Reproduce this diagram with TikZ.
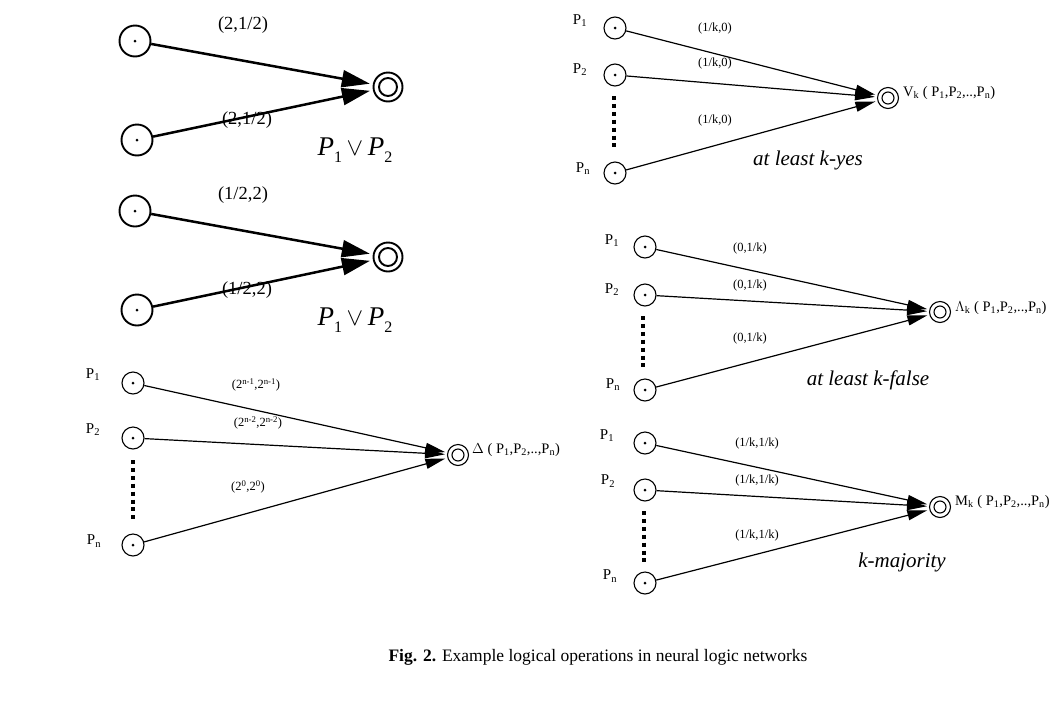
\documentclass[tikz,border=0pt]{standalone}
\usepackage{fontspec}
\setmainfont{Liberation Serif}
\usetikzlibrary{arrows.meta}

\newcommand{\fs}[1]{\fontsize{#1}{#1}\selectfont}
\newcommand{\sub}[1]{\raisebox{-0.28em}{\fs{16}#1}}
\newcommand{\orp}{\textit{P}\sub{1}\,$\vee$\,\textit{P}\sub{2}}
\newcommand{\plist}{P\textsubscript{1},P\textsubscript{2},..,P\textsubscript{n})}

\begin{document}
\begin{tikzpicture}[x=1pt,y=-1pt,
  inbig/.style={circle,draw,line width=1.9pt,minimum size=31pt,inner sep=0pt},
  outbig/.style={circle,draw,line width=1.9pt,minimum size=29pt,inner sep=0pt},
  insmall/.style={circle,draw,line width=1.1pt,minimum size=22pt,inner sep=0pt},
  outsmall/.style={circle,draw,line width=1.1pt,minimum size=21pt,inner sep=0pt},
  bigarrow/.style={line width=2.5pt,-{Triangle[length=28pt,width=17pt]},shorten >=3pt},
  smallarrow/.style={line width=1.2pt,-{Triangle[length=20pt,width=10pt]},shorten >=2pt},
  wtbig/.style={font=\fs{18.5},inner sep=0pt},
  wt/.style={font=\fs{12.5},inner sep=0pt},
  plab/.style={font=\fs{15},inner sep=0pt},
  outlab/.style={font=\fs{14.5},inner sep=0pt,anchor=west},
  opname/.style={font=\fs{21}\itshape,inner sep=0pt},
  dotcol/.style={line width=4.5pt,dash pattern=on 4pt off 3.9pt},
]
\useasboundingbox (0,0) rectangle (1052,702);

% ---------- P1 v P2, weights (2,1/2) ----------
\node[inbig] (a1) at (135,41) {};
\node[inbig] (a2) at (137,140) {};
\node[outbig] (o1) at (388,87) {};
\draw[line width=1.9pt] (o1.center) circle (9pt);
\draw[bigarrow] (a1) -- (o1);
\draw[bigarrow] (a2) -- (o1);
\node[wtbig] (w11) at (243,25) {(2,1/2)};
\node[wtbig] (w12) at (247,120) {(2,1/2)};
\node[font=\fs{27},inner sep=0pt] (f1) at (355,150) {\orp};

% ---------- P1 v P2, weights (1/2,2) ----------
\node[inbig] (b1) at (135,211) {};
\node[inbig] (b2) at (137,310) {};
\node[outbig] (o2) at (388,257) {};
\draw[line width=1.9pt] (o2.center) circle (9pt);
\draw[bigarrow] (b1) -- (o2);
\draw[bigarrow] (b2) -- (o2);
\node[wtbig] (w21) at (243,195) {(1/2,2)};
\node[wtbig] (w22) at (247,290) {(1/2,2)};
\node[font=\fs{27},inner sep=0pt] (f2) at (355,320) {\orp};

% ---------- Delta ----------
\node[insmall] (c1) at (133,383) {};
\node[insmall] (c2) at (133,438) {};
\node[insmall] (cn) at (133,545) {};
\node[plab] (lc1) at (93,375) {P\textsubscript{1}};
\node[plab] (lc2) at (93,430) {P\textsubscript{2}};
\node[plab] (lcn) at (94,541) {P\textsubscript{n}};
\coordinate (cd1) at (133,460);
\coordinate (cd2) at (133,521);
\draw[dotcol] (cd1) -- (cd2);
\node[outsmall] (o3) at (458,455) {};
\draw[line width=1.1pt] (o3.center) circle (6pt);
\draw[smallarrow] (c1) -- (o3);
\draw[smallarrow] (c2) -- (o3);
\draw[smallarrow] (cn) -- (o3);
\node[wt] (w31) at (256,385) {(2\textsuperscript{n-1},2\textsuperscript{n-1})};
\node[wt] (w32) at (258,423) {(2\textsuperscript{n-2},2\textsuperscript{n-2})};
\node[wt] (w33) at (248,487) {(2\textsuperscript{0},2\textsuperscript{0})};
\node[outlab] (t3) at (472,450) {$\Delta$ ( \plist};

% ---------- at least k-yes ----------
\node[insmall] (d1) at (615,28) {};
\node[insmall] (d2) at (615,75) {};
\node[insmall] (dn) at (615,173) {};
\node[plab] (ld1) at (580,21) {P\textsubscript{1}};
\node[plab] (ld2) at (580,70) {P\textsubscript{2}};
\node[plab] (ldn) at (583,169) {P\textsubscript{n}};
\coordinate (dd1) at (614,96);
\coordinate (dd2) at (614,151);
\draw[dotcol] (dd1) -- (dd2);
\node[outsmall] (o4) at (888,98) {};
\draw[line width=1.1pt] (o4.center) circle (6pt);
\draw[smallarrow] (d1) -- (o4);
\draw[smallarrow] (d2) -- (o4);
\draw[smallarrow] (dn) -- (o4);
\node[wt] (w41) at (715,28) {(1/k,0)};
\node[wt] (w42) at (715,63) {(1/k,0)};
\node[wt] (w43) at (715,120) {(1/k,0)};
\node[outlab] (t4) at (903,93) {V\textsubscript{k} ( \plist};
\node[opname] (n4) at (808,160) {at least k-yes};

% ---------- at least k-false ----------
\node[insmall] (e1) at (645,247) {};
\node[insmall] (e2) at (645,295) {};
\node[insmall] (en) at (645,390) {};
\node[plab] (le1) at (612,241) {P\textsubscript{1}};
\node[plab] (le2) at (612,290) {P\textsubscript{2}};
\node[plab] (len) at (613,385) {P\textsubscript{n}};
\coordinate (ed1) at (643,316);
\coordinate (ed2) at (643,369);
\draw[dotcol] (ed1) -- (ed2);
\node[outsmall] (o5) at (940,312) {};
\draw[line width=1.1pt] (o5.center) circle (6pt);
\draw[smallarrow] (e1) -- (o5);
\draw[smallarrow] (e2) -- (o5);
\draw[smallarrow] (en) -- (o5);
\node[wt] (w51) at (750,248) {(0,1/k)};
\node[wt] (w52) at (750,285) {(0,1/k)};
\node[wt] (w53) at (750,338) {(0,1/k)};
\node[outlab] (t5) at (955,308) {$\Lambda$\textsubscript{k} ( \plist};
\node[opname] (n5) at (868,380) {at least k-false};

% ---------- k-majority ----------
\node[insmall] (g1) at (645,443) {};
\node[insmall] (g2) at (645,490) {};
\node[insmall] (gn) at (645,583) {};
\node[plab] (lg1) at (607,436) {P\textsubscript{1}};
\node[plab] (lg2) at (608,481) {P\textsubscript{2}};
\node[plab] (lgn) at (610,576) {P\textsubscript{n}};
\coordinate (gd1) at (644,511);
\coordinate (gd2) at (644,564);
\draw[dotcol] (gd1) -- (gd2);
\node[outsmall] (o6) at (940,507) {};
\draw[line width=1.1pt] (o6.center) circle (6pt);
\draw[smallarrow] (g1) -- (o6);
\draw[smallarrow] (g2) -- (o6);
\draw[smallarrow] (gn) -- (o6);
\node[wt] (w61) at (757,443) {(1/k,1/k)};
\node[wt] (w62) at (757,480) {(1/k,1/k)};
\node[wt] (w63) at (757,535) {(1/k,1/k)};
\node[outlab] (t6) at (955,502) {M\textsubscript{k} ( \plist};
\node[opname] (n6) at (902,562) {k-majority};

% ---------- input dots ----------
\foreach \n in {a1,a2,b1,b2,c1,c2,cn,d1,d2,dn,e1,e2,en,g1,g2,gn}
  \fill (\n.center) circle (1.5pt);

% ---------- caption ----------
\node[font=\fs{17.5},inner sep=0pt] (cap) at (598,657)
  {\textbf{Fig. 2.} Example logical operations in neural logic networks};
\end{tikzpicture}
\end{document}
